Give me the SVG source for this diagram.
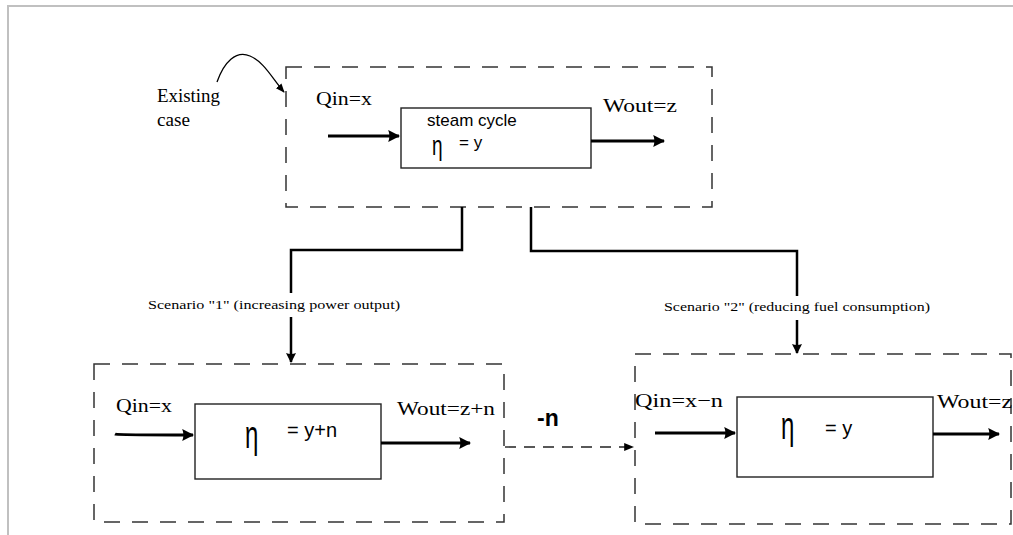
<svg xmlns="http://www.w3.org/2000/svg" width="1013" height="535" viewBox="0 0 1013 535">
  <style>
    .frame { fill: none; stroke: #c0c0c0; stroke-width: 2; }
    .boundary { fill: none; stroke: #333; stroke-width: 1.5; stroke-dasharray: 16 12; }
    .block { fill: #fff; stroke: #222; stroke-width: 1.4; }
    .flow { fill: none; stroke: #000; stroke-width: 3; }
    .link { fill: none; stroke: #000; stroke-width: 2.5; }
    .dash { fill: none; stroke: #222; stroke-width: 1.4; stroke-dasharray: 11 8; }
    .serif { font-family: "Liberation Serif", "DejaVu Serif", serif; fill: #000; }
    .sans { font-family: "Liberation Sans", Arial, sans-serif; fill: #000; }
    .big { font-size: 19px; }
    .small { font-size: 13px; }
  </style>
  <defs>
    <marker id="head" viewBox="0 0 10 10" refX="9" refY="5" markerWidth="4" markerHeight="4" orient="auto" markerUnits="strokeWidth">
      <path d="M0,0 L10,5 L0,10 Q2,5 0,0 Z" fill="#000"/>
    </marker>
    <marker id="headThin" viewBox="0 0 10 10" refX="9" refY="5" markerWidth="7" markerHeight="7" orient="auto" markerUnits="strokeWidth">
      <path d="M0,1 L10,5 L0,9 Z" fill="#000"/>
    </marker>
  </defs>

  <!-- page frame -->
  <path class="frame" d="M8,535 L8,6 L1013,6"/>

  <!-- existing case -->
  <g id="existing-case">
    <rect class="boundary" x="286" y="67" width="426" height="140"/>
    <rect class="block" x="401" y="108" width="190" height="60"/>
    <text class="serif big" x="316" y="105" textLength="56" lengthAdjust="spacingAndGlyphs">Qin=x</text>
    <text class="serif big" x="603" y="112" textLength="74" lengthAdjust="spacingAndGlyphs">Wout=z</text>
    <text class="sans" font-size="17" x="427" y="126">steam cycle</text>
    <text class="sans" font-size="19" transform="translate(432,155) scale(1,1.45)">η</text>
    <text class="sans" font-size="17" x="459" y="148">= y</text>
    <path class="flow" d="M328,136 L399,136" marker-end="url(#head)"/>
    <path class="flow" d="M591,141 L664,141" marker-end="url(#head)"/>
  </g>

  <!-- label for existing case -->
  <g id="existing-label">
    <text class="serif big" x="157" y="102" textLength="63" lengthAdjust="spacingAndGlyphs">Existing</text>
    <text class="serif big" x="157" y="126" textLength="33" lengthAdjust="spacingAndGlyphs">case</text>
  </g>

  <!-- scenario 1 -->
  <g id="scenario-1">
    <rect class="boundary" x="94" y="364" width="410" height="158"/>
    <rect class="block" x="195" y="404" width="186" height="75"/>
    <text class="serif big" x="116" y="412" textLength="56" lengthAdjust="spacingAndGlyphs">Qin=x</text>
    <text class="serif big" x="397" y="415" textLength="98" lengthAdjust="spacingAndGlyphs">Wout=z+n</text>
    <text class="sans" font-size="24" transform="translate(245,448) scale(1,1.6)">η</text>
    <text class="sans" font-size="20" x="287" y="437">= y+n</text>
    <path class="flow" d="M115,434 Q117,435 193,435" marker-end="url(#head)"/>
    <path class="flow" d="M381,443 L470,443" marker-end="url(#head)"/>
  </g>

  <!-- scenario 2 -->
  <g id="scenario-2">
    <rect class="boundary" x="635" y="354" width="376" height="170"/>
    <rect class="block" x="737" y="397" width="196" height="80"/>
    <text class="serif big" x="635" y="407" textLength="88" lengthAdjust="spacingAndGlyphs">Qin=x−n</text>
    <text class="serif big" x="937" y="408" textLength="75" lengthAdjust="spacingAndGlyphs">Wout=z</text>
    <text class="sans" font-size="24" transform="translate(781,439) scale(1,1.6)">η</text>
    <text class="sans" font-size="20" x="825" y="435">= y</text>
    <path class="flow" d="M655,433 L735,433" marker-end="url(#head)"/>
    <path class="flow" d="M933,434 L999,434" marker-end="url(#head)"/>
  </g>

  <!-- connectors -->
  <g id="connectors">
    <path class="link" d="M462,207 L462,250 L291,250 L291,293"/>
    <path class="link" d="M291,317 L291,362" marker-end="url(#head)"/>
    <path class="link" d="M531,207 L531,251 L797,251 L797,296"/>
    <path class="link" d="M797,320 L797,353" marker-end="url(#head)"/>
    <path d="M217,82 C224,62 236,50 250,56 C264,62 272,78 284,92" fill="none" stroke="#000" stroke-width="1.3" marker-end="url(#headThin)"/>
    <path class="dash" d="M505,447 L633,447" marker-end="url(#headThin)"/>
    <text class="serif small" x="148" y="309" textLength="252" lengthAdjust="spacingAndGlyphs">Scenario "1"  (increasing power output)</text>
    <text class="serif small" x="664" y="311" textLength="266" lengthAdjust="spacingAndGlyphs">Scenario "2" (reducing fuel consumption)</text>
    <text class="sans" font-size="23" font-weight="bold" x="537" y="426">-n</text>
  </g>
</svg>
